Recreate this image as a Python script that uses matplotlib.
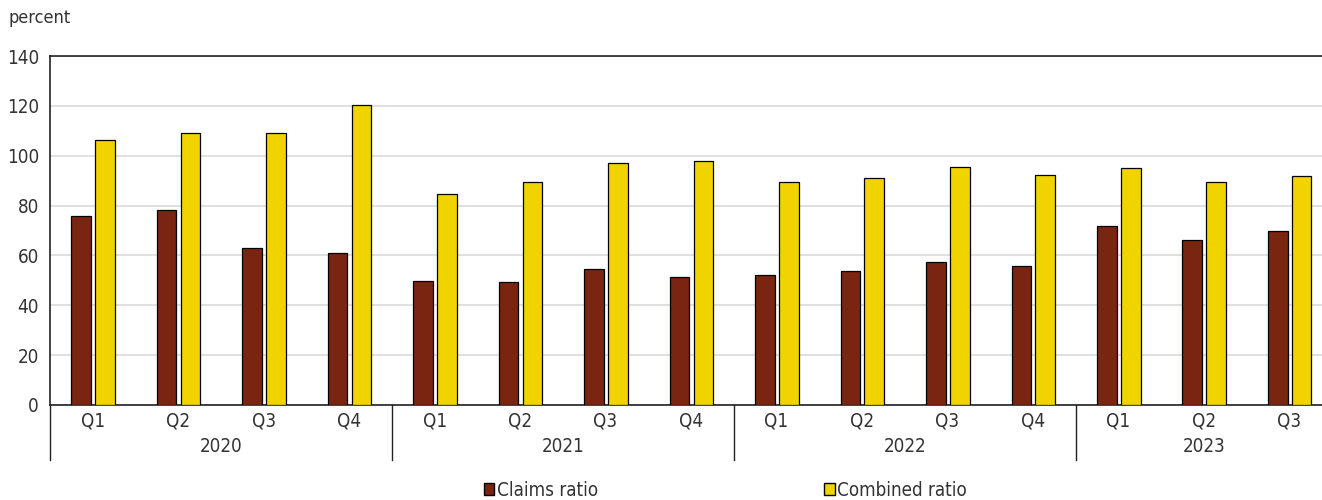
import matplotlib
matplotlib.use("Agg")
import matplotlib.pyplot as plt
import matplotlib.transforms as mtransforms
from matplotlib.patches import Patch
import numpy as np

# data
quarters = ["Q1", "Q2", "Q3", "Q4",
            "Q1", "Q2", "Q3", "Q4",
            "Q1", "Q2", "Q3", "Q4",
            "Q1", "Q2", "Q3"]
years = ["2020", "2021", "2022", "2023"]
quarters_per_year = [4, 4, 4, 3]
claims_ratio = [76.0, 78.1, 62.8, 60.8,
                49.7, 49.3, 54.5, 51.3,
                52.3, 53.7, 57.2, 55.7,
                71.7, 66.3, 69.7]
combined_ratio = [106.4, 109.3, 109.2, 120.3,
                  84.5, 89.5, 97.2, 98.0,
                  89.6, 91.1, 95.3, 92.1,
                  95.1, 89.3, 91.7]

claims_color = "#7a2511"
combined_color = "#f1d300"
text_color = "#333333"

plt.rcParams["font.family"] = ["DejaVu Sans"]
plt.rcParams["font.stretch"] = "condensed"
fs = 13.5

fig = plt.figure(figsize=(13.22, 5.0), dpi=100)
ax = fig.add_axes([50 / 1322, 95 / 500, (1332 - 50) / 1322, 349 / 500])

x = np.arange(len(quarters))
w = 0.23
ax.bar(x - 0.135, claims_ratio, width=w, color=claims_color,
       edgecolor="black", linewidth=0.9, zorder=3)
ax.bar(x + 0.145, combined_ratio, width=w, color=combined_color,
       edgecolor="black", linewidth=0.9, zorder=3)

ax.set_xlim(-0.5, len(quarters) - 0.5)
ax.set_ylim(0, 140)
ax.set_yticks(np.arange(0, 141, 20))
ax.grid(axis="y", color="#e0e0e0", linewidth=1.4, zorder=0)
for side in ["top", "left", "bottom", "right"]:
    ax.spines[side].set_color("#222222")
    ax.spines[side].set_linewidth(1.2)
ax.spines["right"].set_visible(False)

ax.set_xticks(x)
ax.set_xticklabels(quarters)
ax.tick_params(axis="both", length=0, labelsize=fs, labelcolor=text_color)
ax.tick_params(axis="x", pad=5)
ax.tick_params(axis="y", pad=8)

# year labels and separators under the quarters
trans = mtransforms.blended_transform_factory(ax.transData, ax.transAxes)
start = 0
for yr, n in zip(years, quarters_per_year):
    ax.text(start + (n - 1) / 2, -0.118, yr, transform=trans, ha="center",
            va="center", fontsize=fs, color=text_color)
    ax.plot([start - 0.5, start - 0.5], [0, -0.158], transform=trans,
            color="#222222", linewidth=1.0, clip_on=False)
    start += n

fig.text(8 / 1322, 1 - 18 / 500, "percent", ha="left", va="center",
         fontsize=fs - 0.5, color=text_color)

handles = [Patch(facecolor=claims_color, edgecolor="black", label="Claims ratio"),
           Patch(facecolor=combined_color, edgecolor="black", label="Combined ratio")]
fig.legend(handles=handles, loc="center left", bbox_to_anchor=(484 / 1322, 1 - 490 / 500),
           ncol=2, frameon=False, fontsize=fs, handlelength=0.55, handleheight=0.55,
           handletextpad=0.15, columnspacing=12.05, labelcolor=text_color,
           borderpad=0, borderaxespad=0)

fig.savefig("out.png", dpi=100)
